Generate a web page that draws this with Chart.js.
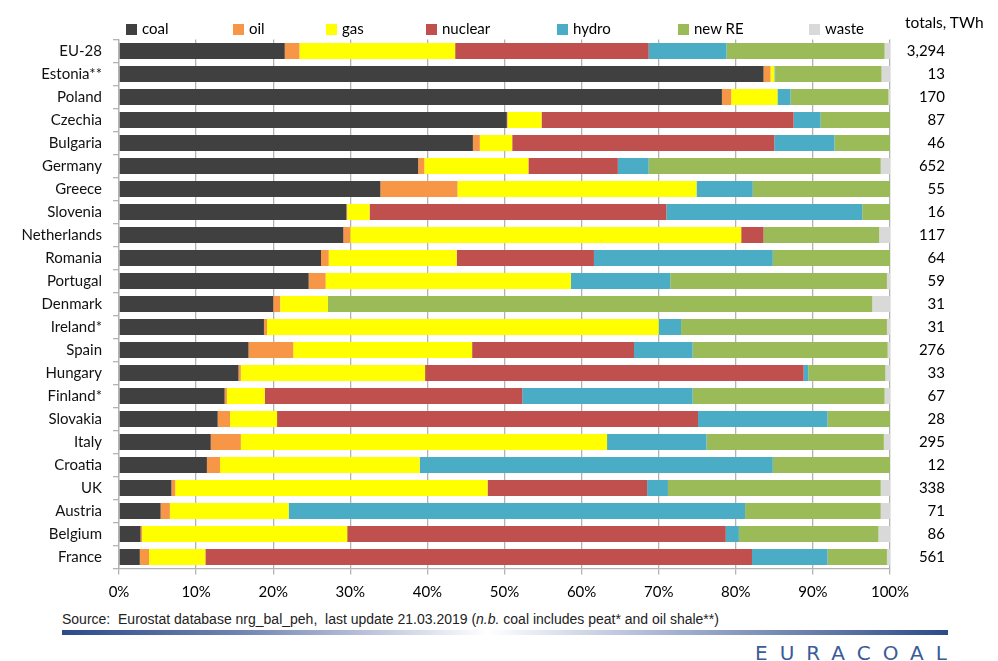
<!DOCTYPE html>
<html>
<head>
<meta charset="utf-8">
<script src="https://cdn.jsdelivr.net/npm/chart.js@4"></script>
<style>
  body { margin: 0; background: #fff; width: 998px; height: 661px; overflow: hidden; position: relative; font-family: Lato, "Noto Sans", sans-serif; }
  #wrap { position: absolute; left: 0; top: 0; width: 998px; height: 610px; }
  .leg { position: absolute; top: 20px; font-size: 15px; color: #000; line-height: 16px; white-space: nowrap; }
  .leg i { display: inline-block; width: 11px; height: 11px; margin-right: 5px; vertical-align: -1px; }
  #totalsHead { position: absolute; left: 905px; top: 13px; font-size: 15.5px; color: #000; }
  #source { position: absolute; left: 62px; top: 611px; font-family: "Liberation Sans Narrow", "Liberation Sans", Arial, sans-serif; font-size: 14px; color: #222; white-space: nowrap; }
  #rule { position: absolute; left: 62px; top: 630px; width: 886px; height: 5px;
    background: linear-gradient(to right, #2d4b8a 0%, #7083b2 20%, #ffffff 48%, #a8b5d3 68%, #2d4b8a 100%); }
  #logo { position: absolute; left: 755px; top: 641px; font-family: "DejaVu Sans", sans-serif; font-size: 20px; color: #3b5b98; letter-spacing: 12px; }
</style>
</head>
<body>
<div id="wrap"><canvas id="chart" width="998" height="610"></canvas></div>
<div id="legend"></div>
<div id="totalsHead">totals, TWh</div>
<div id="source">Source:&nbsp; Eurostat database nrg_bal_peh,&nbsp; last update 21.03.2019 (<i>n.b.</i> coal includes peat* and oil shale**)</div>
<div id="rule"></div>
<div id="logo">EURACOAL</div>
<script>
const countries = ["EU-28", "Estonia**", "Poland", "Czechia", "Bulgaria", "Germany", "Greece", "Slovenia",
    "Netherlands", "Romania", "Portugal", "Denmark", "Ireland*", "Spain", "Hungary", "Finland*",
    "Slovakia", "Italy", "Croatia", "UK", "Austria", "Belgium", "France"];
const totals = ["3,294", "13", "170", "87", "46", "652", "55", "16", "117", "64", "59", "31", "31",
    "276", "33", "67", "28", "295", "12", "338", "71", "86", "561"];

// shares of generation, %
const coal    = [21.5, 83.6, 78.2, 50.3, 45.9, 38.8, 33.9, 29.5, 29.1, 26.2, 24.6, 20.0, 18.8, 16.8, 15.5, 13.7, 12.8, 11.9, 11.4, 6.8, 5.4, 2.8, 2.7];
const oil     = [1.9, 0.9, 1.2, 0.1, 0.9, 0.8, 10.0, 0.1, 0.9, 1.0, 2.2, 0.9, 0.4, 5.8, 0.3, 0.3, 1.6, 3.9, 1.7, 0.5, 1.2, 0.2, 1.2];
const gas     = [20.2, 0.5, 6.0, 4.4, 4.2, 13.5, 31.0, 2.9, 50.7, 16.6, 31.8, 6.2, 50.8, 23.2, 23.9, 4.9, 6.1, 47.5, 25.9, 40.5, 15.4, 26.6, 7.3];
const nuclear = [25.1, 0, 0, 32.7, 34.0, 11.6, 0, 38.5, 2.9, 17.8, 0, 0, 0, 21.0, 49.1, 33.4, 54.6, 0, 0, 20.7, 0, 49.1, 70.9];
const hydro   = [10.1, 0.1, 1.7, 3.5, 7.8, 4.0, 7.3, 25.4, 0, 23.2, 12.9, 0, 2.9, 7.6, 0.6, 22.1, 16.8, 12.9, 45.8, 2.7, 59.2, 1.7, 9.8];
const newRE   = [20.5, 13.8, 12.7, 9.0, 7.2, 30.1, 17.8, 3.6, 15.0, 15.2, 28.1, 70.6, 26.7, 25.3, 10.0, 24.9, 8.1, 23.0, 15.2, 27.6, 17.6, 18.1, 7.7];
const waste   = [0.7, 1.1, 0.2, 0, 0, 1.2, 0, 0, 1.4, 0, 0.4, 2.3, 0.4, 0.3, 0.6, 0.7, 0, 0.8, 0, 1.2, 1.2, 1.5, 0.4];

const series = [
    { label: "coal", data: coal, color: "#404040" },
    { label: "oil", data: oil, color: "#F79646" },
    { label: "gas", data: gas, color: "#FFFF00" },
    { label: "nuclear", data: nuclear, color: "#C0504D" },
    { label: "hydro", data: hydro, color: "#4BACC6" },
    { label: "new RE", data: newRE, color: "#9BBB59" },
    { label: "waste", data: waste, color: "#D9D9D9" }
];

// legend item left edges, px
const legendX = [126, 233, 326, 426, 557, 678, 809];

const font = { family: "Lato, 'Noto Sans', sans-serif", size: 15 };
const gridColor = "#b3b3b3";

const chart = new Chart(document.getElementById("chart").getContext("2d"), {
    type: "bar",
    data: {
        labels: countries,
        datasets: series.map(s => ({
            label: s.label,
            data: s.data,
            backgroundColor: s.color,
            borderWidth: 0,
            categoryPercentage: 1,
            barPercentage: 0.7
        }))
    },
    options: {
        indexAxis: "y",
        responsive: false,
        animation: false,
        layout: { padding: { top: 39.5, right: 53, left: 0, bottom: 0 } },
        plugins: {
            legend: { display: false },
            tooltip: { enabled: false }
        },
        scales: {
            x: {
                stacked: true,
                min: 0,
                max: 100,
                ticks: { stepSize: 10, callback: v => v + "%", color: "#000", font: font, padding: 9 },
                grid: { color: gridColor, lineWidth: 1.3, tickLength: 6, tickColor: gridColor },
                border: { color: gridColor, width: 1.3 },
                afterFit: s => { s.height = 41.5; }
            },
            y: {
                stacked: true,
                ticks: { color: "#111", font: font, padding: 11 },
                grid: { drawOnChartArea: false, tickLength: 6, color: gridColor, lineWidth: 1.3 },
                border: { color: gridColor, width: 1.3 },
                afterFit: s => { s.width = 119; }
            },
            yTotals: {
                type: "category",
                position: "right",
                labels: totals,
                offset: true,
                ticks: { color: "#000", font: font, crossAlign: "far", padding: 0 },
                grid: { display: false },
                border: { display: false },
                afterFit: s => { s.width = 55; }
            }
        }
    }
});

const legendEl = document.getElementById("legend");
series.forEach((s, i) => {
    const d = document.createElement("div");
    d.className = "leg";
    d.style.left = legendX[i] + "px";
    d.innerHTML = `<i style="background:${s.color}"></i>${s.label}`;
    legendEl.appendChild(d);
});
</script>
</body>
</html>
